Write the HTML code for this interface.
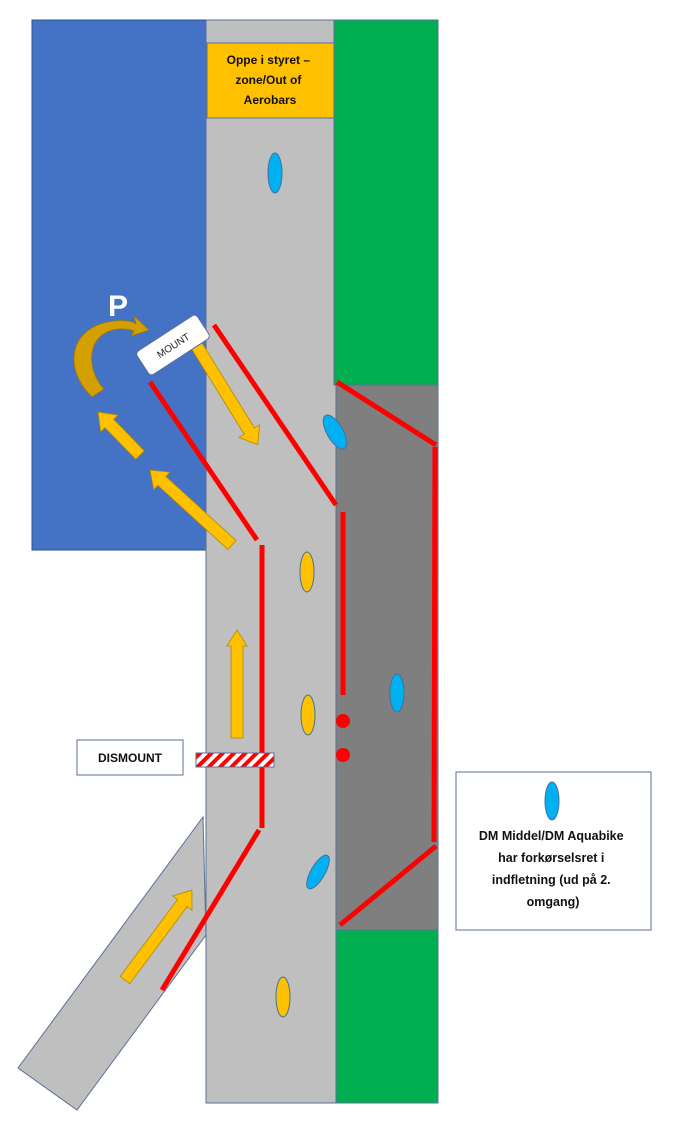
<!DOCTYPE html>
<html><head><meta charset="utf-8"><style>
html,body{margin:0;padding:0;background:#fff;}
svg{display:block;font-family:"Liberation Sans",sans-serif;}
</style></head><body>
<svg width="677" height="1130" viewBox="0 0 677 1130" xmlns="http://www.w3.org/2000/svg">
<defs>
<pattern id="hatch" width="8" height="8" patternUnits="userSpaceOnUse" patternTransform="rotate(45)">
<rect width="8" height="8" fill="#fff"/><rect width="4" height="8" fill="#f00"/>
</pattern>
</defs>
<!-- side road (under main road) -->
<polygon points="203,817 206,935 77,1110 18,1068" fill="#bfbfbf" stroke="#5a6f99" stroke-width="1"/>
<!-- blue area -->
<rect x="32" y="20" width="174" height="530" fill="#4472c4" stroke="#2f528f" stroke-width="1"/>
<!-- main road -->
<rect x="206" y="20" width="130" height="1083" fill="#bfbfbf" stroke="#5a6f99" stroke-width="1"/>
<!-- green / dark -->
<rect x="334" y="20" width="104" height="365" fill="#00b050" stroke="#5a6f99" stroke-width="1"/>
<rect x="336" y="385" width="102" height="545" fill="#7f7f7f" stroke="#5a6f99" stroke-width="1"/>
<rect x="336" y="930" width="102" height="173" fill="#00b050" stroke="#5a6f99" stroke-width="1"/>
<!-- orange box -->
<rect x="207" y="43" width="127" height="75" fill="#ffc000" stroke="#5a6f99" stroke-width="1"/>
<text font-size="12" font-weight="bold" fill="#111" text-anchor="middle">
<tspan x="270" y="64">Oppe i styret –</tspan>
<tspan x="270" y="84">zone/Out of</tspan>
<tspan x="270" y="104">Aerobars</tspan>
</text>
<!-- red lines -->
<g stroke="#ff0000" stroke-width="5" stroke-linecap="butt">
<line x1="214" y1="325" x2="336" y2="505"/>
<line x1="150" y1="382" x2="257" y2="540"/>
<line x1="262" y1="545" x2="262" y2="828"/>
<line x1="259" y1="830" x2="162" y2="990"/>
<line x1="343" y1="512" x2="343" y2="695"/>
<line x1="337" y1="382" x2="436" y2="445"/>
<line x1="435" y1="447" x2="434" y2="842"/>
<line x1="436" y1="846" x2="340" y2="925"/>
</g>
<circle cx="343" cy="721" r="7" fill="#f00"/>
<circle cx="343" cy="755" r="7" fill="#f00"/>
<!-- arrows -->
<g fill="#ffc000" stroke="#b08a00" stroke-width="0.8">
<path transform="translate(190,335) rotate(58.3)" d="M0,-6 H113 V-12 L129,0 L113,12 V6 H0 Z"/>
<path transform="translate(232,545) rotate(222.4)" d="M0,-6 H95 V-12 L111,0 L95,12 V6 H0 Z"/>
<path transform="translate(140,455) rotate(225.7)" d="M0,-6 H44 V-12 L60,0 L44,12 V6 H0 Z"/>
<path transform="translate(237,738) rotate(-90)" d="M0,-6 H92 V-10 L108,0 L92,10 V6 H0 Z"/>
<path transform="translate(125,980) rotate(-53.3)" d="M0,-6 H96 V-12 L112,0 L96,12 V6 H0 Z"/>
</g>
<!-- curved arrow -->
<path d="M92,397 C64,370 68,330 108,322 C122,319 132,321 136,324 L134,316 L149,330 L131,336 L134,331 C126,328 116,328 107,332 C86,342 88,372 104,389 Z" fill="#d4a000" stroke="#a07800" stroke-width="0.8"/>
<text x="118" y="316" font-size="30" font-weight="bold" fill="#fff" text-anchor="middle">P</text>
<!-- mount label -->
<g transform="translate(173,345) rotate(-33)">
<rect x="-36" y="-14" width="72" height="28" rx="4" fill="#fff" stroke="#5a6f99" stroke-width="1"/>
<text x="0" y="4" font-size="10" fill="#222" text-anchor="middle">MOUNT</text>
</g>
<!-- dismount -->
<rect x="77" y="740" width="106" height="35" fill="#fff" stroke="#5a6f99" stroke-width="1"/>
<text x="130" y="762" font-size="12" font-weight="bold" fill="#111" text-anchor="middle">DISMOUNT</text>
<rect x="196" y="753" width="78" height="14" fill="url(#hatch)" stroke="#5a6f99" stroke-width="1"/>
<!-- legend -->
<rect x="456" y="772" width="195" height="158" fill="#fff" stroke="#5a6f99" stroke-width="1"/>
<text font-size="12.5" font-weight="bold" fill="#111" text-anchor="middle">
<tspan x="553" y="840">DM Middel/DM Aquabike</tspan>
<tspan x="553" y="862">har forkørselsret i</tspan>
<tspan x="553" y="884">indfletning (ud på 2.</tspan>
<tspan x="553" y="906">omgang)</tspan>
</text>
<!-- ovals -->
<g stroke="#41719c" stroke-width="1">
<ellipse cx="275" cy="173" rx="7" ry="20" fill="#00b0f0"/>
<ellipse cx="335" cy="432" rx="8" ry="19" fill="#00b0f0" transform="rotate(-30 335 432)"/>
<ellipse cx="397" cy="693" rx="7" ry="19" fill="#00b0f0"/>
<ellipse cx="318" cy="872" rx="7" ry="19" fill="#00b0f0" transform="rotate(30 318 872)"/>
<ellipse cx="552" cy="801" rx="7" ry="19" fill="#00b0f0"/>
<ellipse cx="307" cy="572" rx="7" ry="20" fill="#ffc000"/>
<ellipse cx="308" cy="715" rx="7" ry="20" fill="#ffc000"/>
<ellipse cx="283" cy="997" rx="7" ry="20" fill="#ffc000"/>
</g>
</svg>
</body></html>
